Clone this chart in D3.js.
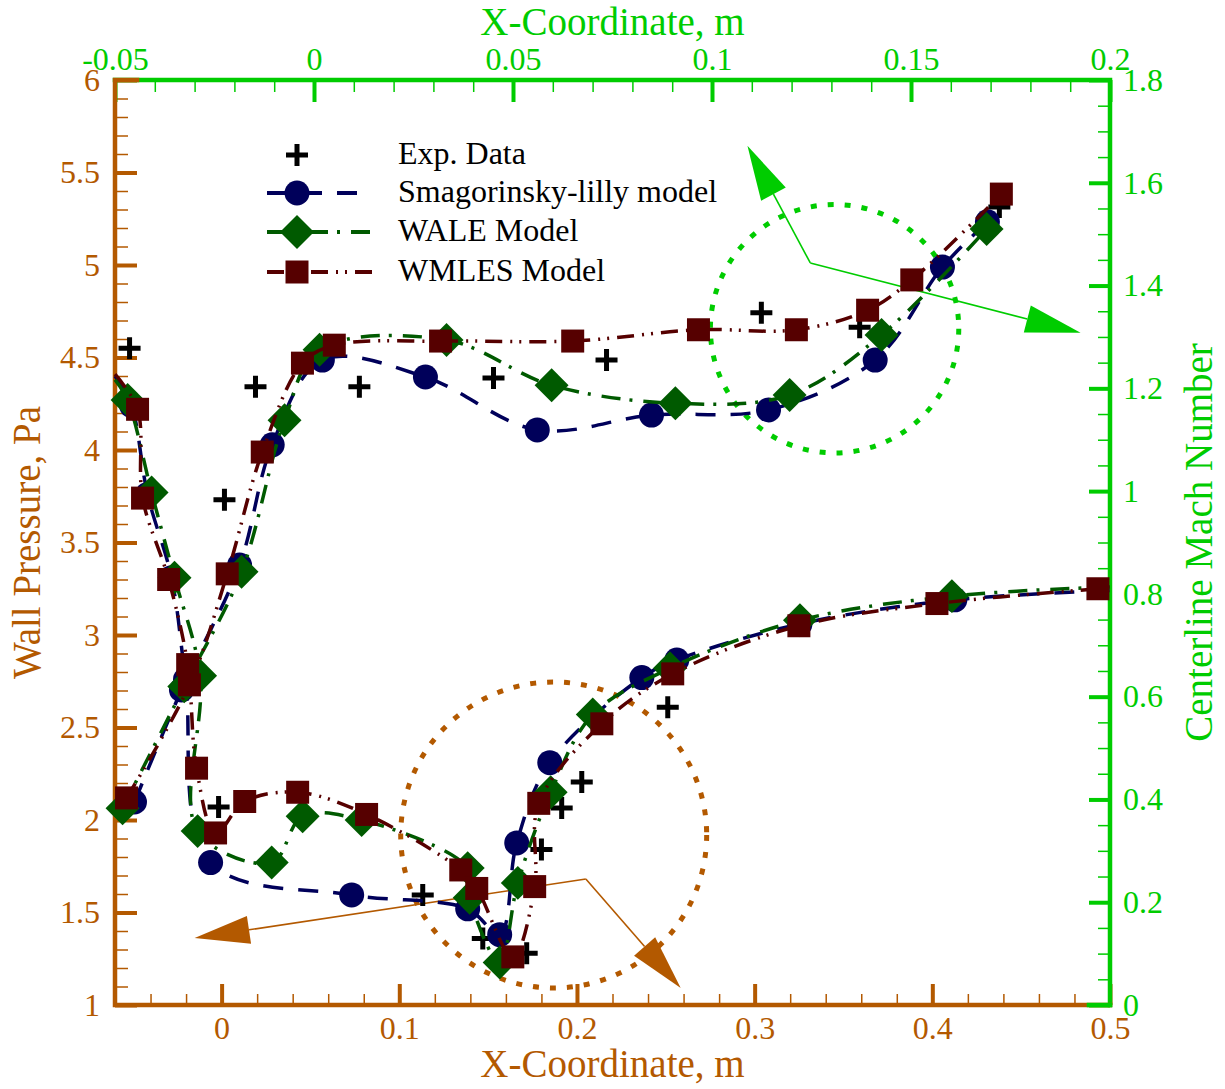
<!DOCTYPE html>
<html>
<head>
<meta charset="utf-8">
<script src="https://cdn.jsdelivr.net/npm/d3@7"></script>
<style>
  body { margin: 0; background: #fff; }
</style>
</head>
<body>
<svg id="chart" width="1225" height="1089"></svg>
<script>
// ---- tick labels ----
const bottomTicks = [0, 0.1, 0.2, 0.3, 0.4, 0.5];
const leftTicks = [1, 1.5, 2, 2.5, 3, 3.5, 4, 4.5, 5, 5.5, 6];
const topTicks = [-0.05, 0, 0.05, 0.1, 0.15, 0.2];
const rightTicks = [0, 0.2, 0.4, 0.6, 0.8, 1, 1.2, 1.4, 1.6, 1.8];

// ---- wall pressure (bottom / left axes) ----
const expPx = [-0.0518, -0.0017, 0.1132, 0.147, 0.1717, 0.180, 0.1914, 0.2027, 0.2511];
const expPy = [4.55, 2.07, 1.595, 1.36, 1.28, 1.84, 2.065, 2.205, 2.61];

const smagPx = [-0.06, -0.0507, -0.0417, -0.0282, -0.0203, -0.0062, 0.0732, 0.1385, 0.1565, 0.1661, 0.1847, 0.2365, 0.2562, 0.3255, 0.4127, 0.5];
const smagPy = [4.40, 4.24, 3.76, 3.31, 2.76, 1.77, 1.595, 1.52, 1.38, 1.876, 2.31, 2.77, 2.865, 3.06, 3.19, 3.24];

const walePx = [-0.06, -0.0529, -0.0394, -0.0265, -0.0121, -0.0135, 0.0282, 0.0456, 0.0788, 0.1385, 0.1396, 0.1565, 0.1667, 0.1852, 0.2089, 0.2523, 0.3255, 0.4110, 0.5];
const walePy = [4.38, 4.27, 3.77, 3.31, 2.78, 1.94, 1.77, 2.02, 2.00, 1.74, 1.58, 1.23, 1.66, 2.15, 2.57, 2.82, 3.08, 3.21, 3.26];

const wmlesPx = [-0.06, -0.0473, -0.0445, -0.0298, -0.0191, -0.0141, -0.0034, 0.0130, 0.0428, 0.0816, 0.1346, 0.1436, 0.1639, 0.1762, 0.1785, 0.2140, 0.2539, 0.3249, 0.4026, 0.4932, 0.5];
const wmlesPy = [4.41, 4.22, 3.74, 3.30, 2.84, 2.28, 1.93, 2.10, 2.15, 2.03, 1.73, 1.63, 1.26, 1.64, 2.09, 2.52, 2.79, 3.05, 3.17, 3.25, 3.255];

// ---- centerline Mach number (top / right axes) ----
const expMx = [-0.0225, -0.0147, 0.0114, 0.0451, 0.0735, 0.1124, 0.1371, 0.1722];
const expMy = [0.983, 1.203, 1.203, 1.220, 1.255, 1.347, 1.319, 1.553];

const smagMx = [-0.0451, -0.0333, -0.0187, -0.0105, 0.0021, 0.0280, 0.0561, 0.0848, 0.1142, 0.1410, 0.1579, 0.1692];
const smagMy = [0.395, 0.613, 0.856, 1.090, 1.255, 1.222, 1.119, 1.148, 1.158, 1.255, 1.436, 1.524];

const waleMx = [-0.0481, -0.0326, -0.0182, -0.0074, 0.0014, 0.0333, 0.0597, 0.0908, 0.1195, 0.1426, 0.1690];
const waleMy = [0.383, 0.620, 0.843, 1.138, 1.275, 1.294, 1.206, 1.171, 1.187, 1.304, 1.510];

const wmlesMx = [-0.0471, -0.0313, -0.0218, -0.0130, -0.0029, 0.0051, 0.0318, 0.0650, 0.0966, 0.1212, 0.1391, 0.1502, 0.1727];
const wmlesMy = [0.403, 0.623, 0.839, 1.076, 1.249, 1.284, 1.292, 1.292, 1.314, 1.314, 1.352, 1.411, 1.578];

// ---- annotations (data units) ----
const greenCircle = { cx: 0.1308, cy: 1.316, r: 0.0312 };       // top/right coords
const greenArrow = { vx: 0.1247, vy: 1.444, tips: [[0.1089, 1.672], [0.1926, 1.308]] };
const brownCircle = { cx: 0.1869, cy: 1.919, r: 0.0861 };       // bottom/left coords
const brownArrow = { vx: 0.2050, vy: 1.681, tips: [[-0.0152, 1.362], [0.2584, 1.092]] };

const SERIF = '"Liberation Serif", "Times New Roman", Times, serif';
const BROWN = '#b35900';
const GREEN = '#00cc00';

const svg = d3.select('#chart');

// Scales
const xB = d3.scaleLinear().domain([-0.06, 0.5]).range([115, 1110]);
const yL = d3.scaleLinear().domain([1, 6]).range([1005, 80]);
const xT = d3.scaleLinear().domain([-0.05, 0.2]).range([115, 1110]);
const yR = d3.scaleLinear().domain([0, 1.8]).range([1005, 80]);

const [px0, px1] = xB.range();
const [py1, py0] = yL.range();

// minor tick helper
function minor(start, stop, step, majorStep) {
  return d3.range(start, stop + step / 2, step).filter(v => {
    const k = v / majorStep;
    return Math.abs(k - Math.round(k)) > 1e-6;
  });
}

function styleAxis(g, color, width) {
  g.select('.domain').remove();
  g.selectAll('line').attr('stroke', color).attr('stroke-width', width);
  g.selectAll('text').attr('fill', color).attr('font-size', 32).attr('font-family', SERIF);
}

// Bottom axis
let g = svg.append('g').attr('transform', `translate(0,${py1})`)
  .call(d3.axisBottom(xB).tickValues(minor(-0.04, 0.48, 0.02, 0.1)).tickFormat(() => '').tickSizeInner(-11).tickSizeOuter(0));
styleAxis(g, BROWN, 1.5);
g = svg.append('g').attr('transform', `translate(0,${py1})`)
  .call(d3.axisBottom(xB).tickValues(bottomTicks).tickFormat(d => String(d)).tickSizeInner(-21).tickSizeOuter(0).tickPadding(11));
styleAxis(g, BROWN, 4);

// Left axis
g = svg.append('g').attr('transform', `translate(${px0},0)`)
  .call(d3.axisLeft(yL).tickValues(minor(1.1, 5.9, 0.1, 0.5)).tickFormat(() => '').tickSizeInner(-13).tickSizeOuter(0));
styleAxis(g, BROWN, 1.5);
g = svg.append('g').attr('transform', `translate(${px0},0)`)
  .call(d3.axisLeft(yL).tickValues(leftTicks).tickFormat(d => String(d)).tickSizeInner(-22).tickSizeOuter(0).tickPadding(15));
styleAxis(g, BROWN, 4);

// Top axis
g = svg.append('g').attr('transform', `translate(0,${py0})`)
  .call(d3.axisTop(xT).tickValues(minor(-0.04, 0.19, 0.01, 0.05)).tickFormat(() => '').tickSizeInner(-12).tickSizeOuter(0));
styleAxis(g, GREEN, 1.5);
g = svg.append('g').attr('transform', `translate(0,${py0})`)
  .call(d3.axisTop(xT).tickValues(topTicks).tickFormat(d => String(d)).tickSizeInner(-22).tickSizeOuter(0).tickPadding(10));
styleAxis(g, GREEN, 4);

// Right axis
g = svg.append('g').attr('transform', `translate(${px1},0)`)
  .call(d3.axisRight(yR).tickValues(minor(0.05, 1.75, 0.05, 0.2)).tickFormat(() => '').tickSizeInner(-12).tickSizeOuter(0));
styleAxis(g, GREEN, 1.5);
g = svg.append('g').attr('transform', `translate(${px1},0)`)
  .call(d3.axisRight(yR).tickValues(rightTicks).tickFormat(d => String(d)).tickSizeInner(-21).tickSizeOuter(0).tickPadding(13));
styleAxis(g, GREEN, 4);

// Frame lines (Tecplot style overlapping axes)
svg.append('path').attr('d', `M${px0},${py0}H${px1}V${py1}`)
  .attr('fill', 'none').attr('stroke', GREEN).attr('stroke-width', 4.5).attr('stroke-linecap', 'square');
svg.append('path').attr('d', `M${px0 + 22},${py0}H${px0}V${py1}H${px1}`)
  .attr('fill', 'none').attr('stroke', BROWN).attr('stroke-width', 4.5).attr('stroke-linecap', 'square');
svg.append('path').attr('d', `M${px1 - 21},${py1}H${px1}`)
  .attr('fill', 'none').attr('stroke', GREEN).attr('stroke-width', 4.5).attr('stroke-linecap', 'square');

// Axis titles
svg.append('text').attr('x', (px0 + px1) / 2).attr('y', 35).attr('text-anchor', 'middle')
  .attr('font-family', SERIF).attr('font-size', 39).attr('fill', GREEN).text('X-Coordinate, m');
svg.append('text').attr('x', (px0 + px1) / 2).attr('y', 1077).attr('text-anchor', 'middle')
  .attr('font-family', SERIF).attr('font-size', 39).attr('fill', BROWN).text('X-Coordinate, m');
svg.append('text').attr('transform', `translate(40,${(py0 + py1) / 2}) rotate(-90)`).attr('text-anchor', 'middle')
  .attr('font-family', SERIF).attr('font-size', 39).attr('fill', BROWN).text('Wall Pressure, Pa');
svg.append('text').attr('transform', `translate(1212,${(py0 + py1) / 2}) rotate(-90)`).attr('text-anchor', 'middle')
  .attr('font-family', SERIF).attr('font-size', 39).attr('fill', GREEN).text('Centerline Mach Number');

// Annotations: dotted circles and arrows
function arrow(ax, x, y, color) {
  const vx = x(ax.vx), vy = y(ax.vy);
  ax.tips.forEach(t => {
    const tx = x(t[0]), ty = y(t[1]);
    const ang = Math.atan2(ty - vy, tx - vx);
    const L = 55, W = 14;
    const bx = tx - L * Math.cos(ang), by = ty - L * Math.sin(ang);
    svg.append('line').attr('x1', vx).attr('y1', vy).attr('x2', bx).attr('y2', by)
      .attr('stroke', color).attr('stroke-width', 1.6);
    const p1 = [bx + W * Math.sin(ang), by - W * Math.cos(ang)];
    const p2 = [bx - W * Math.sin(ang), by + W * Math.cos(ang)];
    svg.append('path').attr('d', `M${tx},${ty}L${p1[0]},${p1[1]}L${p2[0]},${p2[1]}Z`).attr('fill', color);
  });
}

svg.append('circle').attr('cx', xT(greenCircle.cx)).attr('cy', yR(greenCircle.cy))
  .attr('r', xT(greenCircle.cx + greenCircle.r) - xT(greenCircle.cx))
  .attr('fill', 'none').attr('stroke', GREEN).attr('stroke-width', 5).attr('stroke-dasharray', '6,11');
svg.append('circle').attr('cx', xB(brownCircle.cx)).attr('cy', yL(brownCircle.cy))
  .attr('r', xB(brownCircle.cx + brownCircle.r) - xB(brownCircle.cx))
  .attr('fill', 'none').attr('stroke', BROWN).attr('stroke-width', 5).attr('stroke-dasharray', '6,11');
arrow(greenArrow, xT, yR, GREEN);
arrow(brownArrow, xB, yL, BROWN);

// Series styles
const markers = {
  circle: d3.symbol(d3.symbolCircle, Math.PI * 12.5 * 12.5)(),
  square: d3.symbol(d3.symbolSquare, 23 * 23)(),
  diamond: d3.symbol(d3.symbolSquare, 24 * 24)(),
  plus: 'M-11,0H11M0,-11V11'
};
const series = [
  { name: 'Exp. Data', color: '#000', dash: null, marker: 'plus',
    sets: [[expPx, expPy, xB, yL], [expMx, expMy, xT, yR]] },
  { name: 'Smagorinsky-lilly model', color: '#00005a', dash: '20,15', marker: 'circle',
    sets: [[smagPx, smagPy, xB, yL], [smagMx, smagMy, xT, yR]] },
  { name: 'WALE Model', color: '#005a00', dash: '19,9,3,11', marker: 'diamond',
    sets: [[walePx, walePy, xB, yL], [waleMx, waleMy, xT, yR]] },
  { name: 'WMLES Model', color: '#560000', dash: '17,8,2,7,2,8', marker: 'square',
    sets: [[wmlesPx, wmlesPy, xB, yL], [wmlesMx, wmlesMy, xT, yR]] }
];

function drawMarker(sel, s) {
  sel.append('path').attr('d', markers[s.marker])
    .attr('transform', s.marker === 'diamond' ? 'rotate(45)' : null)
    .attr('fill', s.marker === 'plus' ? 'none' : s.color)
    .attr('stroke', s.marker === 'plus' ? s.color : 'none')
    .attr('stroke-width', s.marker === 'plus' ? 5 : 0);
}

const plotG = svg.append('g');
series.forEach(s => {
  s.sets.forEach(([xs, ys, x, y]) => {
    const pts = xs.map((v, i) => ({ x: v, y: ys[i] }));
    if (s.dash) {
      const line = d3.line().x(d => x(d.x)).y(d => y(d.y)).curve(d3.curveCatmullRom.alpha(0.5));
      plotG.append('path').datum(pts).attr('d', line)
        .attr('fill', 'none').attr('stroke', s.color).attr('stroke-width', 3.5)
        .attr('stroke-dasharray', s.dash);
    }
    const dom = x.domain();
    pts.filter(d => d.x > dom[0] && d.x < dom[1]).forEach(d => {
      const m = plotG.append('g').attr('transform', `translate(${x(d.x)},${y(d.y)})`);
      drawMarker(m, s);
    });
  });
});

// Legend
const legendRows = [155, 193, 232, 272];
series.forEach((s, i) => {
  const yy = legendRows[i];
  if (s.dash) {
    svg.append('line').attr('x1', 267).attr('x2', 372).attr('y1', yy).attr('y2', yy)
      .attr('stroke', s.color).attr('stroke-width', 4).attr('stroke-dasharray', s.dash);
  }
  const m = svg.append('g').attr('transform', `translate(297,${yy})`);
  drawMarker(m, s);
  svg.append('text').attr('x', 398).attr('y', yy + 9)
    .attr('font-family', SERIF).attr('font-size', 32).attr('fill', '#000').text(s.name);
});
</script>
</body>
</html>
